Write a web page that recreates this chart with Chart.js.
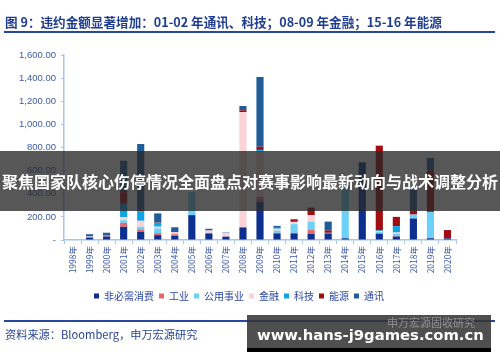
<!DOCTYPE html>
<html>
<head>
<meta charset="utf-8">
<script src="https://cdn.jsdelivr.net/npm/chart.js@4/dist/chart.umd.min.js"></script>
<style>
  html, body { margin: 0; padding: 0; background: #fff; }
  #wrap { position: relative; width: 500px; height: 362px; overflow: hidden; font-family: "Noto Sans CJK SC", "Noto Sans", sans-serif; }
  #chart { position: absolute; left: 0; top: 0; }
  .title { position: absolute; left: 5px; top: 14px; font-size: 12.6px; font-weight: bold; color: #1f3d8f; white-space: nowrap; line-height: 16px; }
  .rule { position: absolute; left: 4px; width: 491px; background: #2747a0; }
  .source { position: absolute; left: 5px; top: 326px; font-size: 11.2px; color: #2a4596; white-space: nowrap; line-height: 16px; }
  .banner { position: absolute; left: 0; top: 151px; width: 500px; height: 60px; background: rgba(40,40,40,0.78); }
  .banner span { position: absolute; left: 2px; top: 21px; font-size: 16px; font-weight: bold; color: #fff; white-space: nowrap; line-height: 18px; }
  .mark { position: absolute; left: 247px; top: 315px; width: 244px; height: 37px; background: rgba(55,55,55,0.88); border-bottom: 4px solid #000; box-sizing: border-box; }
  .mark .site { position: absolute; left: 10px; top: 11px; font-family: "DejaVu Sans", sans-serif; font-size: 14.8px; font-weight: bold; color: #fff; white-space: nowrap; line-height: 18px; }
  .mark .wx { position: absolute; left: 140px; top: 1px; font-size: 11px; color: rgba(200,200,200,0.55); white-space: nowrap; line-height: 13px; }
</style>
</head>
<body>
<div id="wrap">
  <canvas id="chart" width="500" height="362"></canvas>
  <div class="title">图 9：违约金额显著增加：01-02 年通讯、科技；08-09 年金融；15-16 年能源</div>
  <div class="rule" style="top:31px;height:2px;"></div>
  <div class="rule" style="top:320px;height:1.5px;"></div>
  <div class="source">资料来源：Bloomberg，申万宏源研究</div>
  <div class="banner"><span>聚焦国家队核心伤停情况全面盘点对赛事影响最新动向与战术调整分析</span></div>
  <div class="mark"><span class="wx">申万宏源固收研究</span><span class="site">www.hans-j9games.com.cn</span></div>
</div>
<script>
// ---- Data (default amounts by sector) ----
const years = ['1998年','1999年','2000年','2001年','2002年','2003年','2004年','2005年',
  '2006年','2007年','2008年','2009年','2010年','2011年','2012年','2013年','2014年',
  '2015年','2016年','2017年','2018年','2019年','2020年'];

const consumer  = [0, 20, 30, 114, 72, 42, 35, 215, 57, 29, 109, 329, 57, 57, 52, 57, 15, 672, 55, 30, 186, 15, 14];
const industry  = [0, 5, 8, 34, 20, 18, 15, 0, 0, 0, 0, 43, 5, 5, 34, 0, 0, 0, 0, 5, 0, 0, 0];
const utilities = [0, 0, 0, 23, 23, 40, 5, 200, 5, 0, 0, 0, 20, 75, 72, 5, 480, 0, 15, 20, 34, 228, 0];
const finance   = [0, 5, 0, 28, 51, 15, 12, 0, 20, 30, 998, 392, 15, 20, 57, 0, 14, 0, 5, 10, 0, 0, 0];
const tech      = [0, 0, 0, 114, 83, 35, 0, 0, 0, 0, 0, 15, 5, 0, 0, 0, 0, 0, 8, 55, 0, 0, 0];
const energy    = [0, 0, 0, 100, 15, 5, 0, 0, 0, 0, 15, 28, 5, 20, 66, 20, 0, 0, 733, 80, 37, 358, 72];
const telecom   = [0, 20, 25, 272, 566, 75, 43, 0, 15, 5, 37, 603, 15, 5, 0, 77, 0, 0, 0, 0, 178, 109, 0];

const yTicks = [0, 200, 400, 600, 800, 1000, 1200, 1400, 1600];

const seriesNames = ['非必需消费', '工业', '公用事业', '金融', '科技', '能源', '通讯'];
const seriesData  = [consumer, industry, utilities, finance, tech, energy, telecom];
const seriesColor = ['#0d2f8f', '#e8676b', '#6dd0f7', '#fbd3d6', '#0ea3e4', '#a00d12', '#1f5c98'];

const axisBlue = '#a8c6e8';
const textBlue = '#3d5aa8';

const datasets = seriesNames.map((name, i) => ({
  label: name,
  data: seriesData[i],
  backgroundColor: seriesColor[i],
  borderWidth: 0,
  barPercentage: 0.42,
  categoryPercentage: 1
}));

// nudge the legend a little to the right, like the original
const legendShift = {
  id: 'legendShift',
  afterUpdate(chart) {
    if (!chart.legend) return;
    chart.legend.left += 11;
    chart.legend.right += 11;
  }
};

new Chart(document.getElementById('chart'), {
  type: 'bar',
  data: { labels: years, datasets },
  plugins: [legendShift],
  options: {
    responsive: false,
    animation: false,
    layout: { padding: { top: 55, left: 0, right: 44, bottom: 51 } },
    plugins: {
      tooltip: { enabled: false },
      legend: {
        position: 'bottom',
        labels: {
          color: '#2a46a0',
          font: { family: '"Noto Sans CJK SC", sans-serif', size: 10 },
          boxWidth: 5,
          boxHeight: 5,
          padding: 5
        }
      }
    },
    scales: {
      x: {
        stacked: true,
        border: { color: axisBlue, width: 1.5 },
        grid: { display: true, drawOnChartArea: false, color: axisBlue, tickLength: 4, offset: true },
        ticks: {
          color: textBlue,
          font: { family: '"Noto Sans CJK SC", sans-serif', size: 8.5 },
          minRotation: 90,
          maxRotation: 90,
          autoSkip: false,
          padding: 2
        },
        afterFit: s => { s.height = 46; }
      },
      y: {
        stacked: true,
        min: 0,
        max: 1600,
        afterBuildTicks: s => { s.ticks = yTicks.map(v => ({ value: v })); },
        border: { color: axisBlue, width: 1.5 },
        grid: { display: true, drawOnChartArea: false, color: axisBlue, tickLength: 3 },
        ticks: {
          color: textBlue,
          font: { family: '"Liberation Sans", Arial, sans-serif', size: 9.5 },
          padding: 5,
          callback: v => v === 0 ? '-' : v.toLocaleString('en-US', { minimumFractionDigits: 2, maximumFractionDigits: 2 })
        },
        afterFit: s => { s.width = 64; }
      }
    }
  }
});
</script>
</body>
</html>
